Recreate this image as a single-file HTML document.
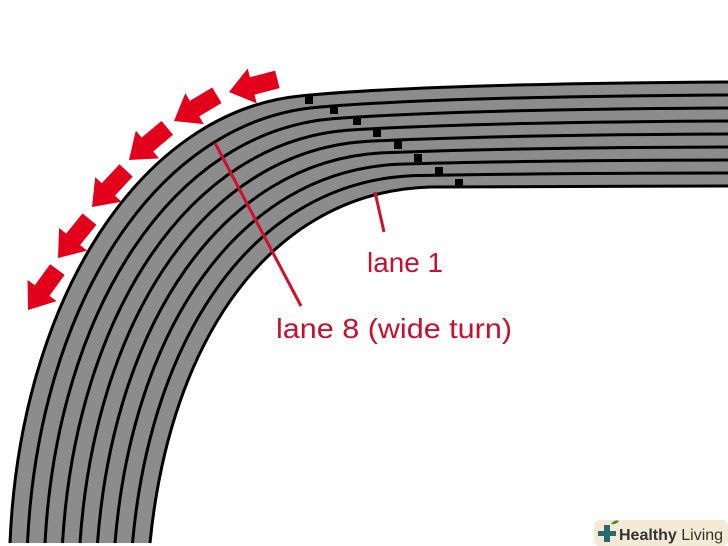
<!DOCTYPE html>
<html><head><meta charset="utf-8"><style>
html,body{margin:0;padding:0;background:#fff;}
svg{display:block;}
</style></head><body>
<svg id="s" width="728" height="546" viewBox="0 0 728 546" xmlns="http://www.w3.org/2000/svg">
<g id="track"></g>
<g fill="#e3001b" id="arrows"></g>
<line x1="215" y1="143" x2="301" y2="306" stroke="#d0102a" stroke-width="3"/>
<line x1="375" y1="192" x2="384" y2="232" stroke="#d0102a" stroke-width="3"/>
<text x="367" y="272" font-family="Liberation Sans, sans-serif" font-size="28" fill="#c8102e" textLength="76" lengthAdjust="spacingAndGlyphs">lane 1</text>
<text x="276" y="338" font-family="Liberation Sans, sans-serif" font-size="28" fill="#c8102e" textLength="236" lengthAdjust="spacingAndGlyphs">lane 8 (wide turn)</text>
<rect x="594" y="520" width="134" height="26" rx="6" fill="#f3ead6"/>
<rect x="598" y="531" width="18" height="5" fill="#2c6a73"/>
<rect x="604" y="525" width="6" height="17" fill="#2c6a73"/>
<path d="M611,524 q4,-5 8,-3 q-3,4 -8,3z" fill="#4a8a2a"/>
<text x="619" y="540" font-family="Liberation Sans, sans-serif" font-size="16" fill="#333"><tspan font-weight="bold">Healthy</tspan> Living</text>
</svg>
<script>
var O=[[10,543],[20,300],[140,112],[300,96],[420,84],[728,82]];
var I=[[150,543],[170,340],[270,192],[430,187],[560,186],[728,186]];
function lp(a,b,t){return a+(b-a)*t;}
function pts(t){return O.map(function(p,k){return [lp(p[0],I[k][0],t),lp(p[1],I[k][1],t)];});}
function d(P){return "M"+P[0]+" C"+P[1]+" "+P[2]+" "+P[3]+" Q"+P[4]+" "+P[5];}
var g=document.getElementById("track"),h="";
var o=pts(0),n=pts(1);
h+='<path d="'+d(o)+' L'+n[5]+' Q'+n[4]+' '+n[3]+' C'+n[2]+' '+n[1]+' '+n[0]+' Z" fill="#8c8c8c"/>';
for(var i=0;i<9;i++){var P=pts(i/8);h+='<path d="'+d(P)+'" fill="none" stroke="#000" stroke-width="3"/>';}
var sq=[[309,100],[334,110],[357,121],[377,133],[398,145],[418,158],[439,171],[459,183]];
sq.forEach(function(s){h+='<rect x="'+(s[0]-4)+'" y="'+(s[1]-4)+'" width="8" height="8" fill="#000"/>';});
g.innerHTML=h;
var A=[[229,92,-14.6],[174,121,-31],[129,160,-40],[92,207,-47],[58,258,-51],[28,310,-54]];
var a="";
A.forEach(function(q){a+='<polygon transform="translate('+q[0]+','+q[1]+') rotate('+q[2]+')" points="0,0 24,-18 24,-9 50,-9 50,9 24,9 24,18"/>';});
document.getElementById("arrows").innerHTML=a;
</script>
</body></html>
